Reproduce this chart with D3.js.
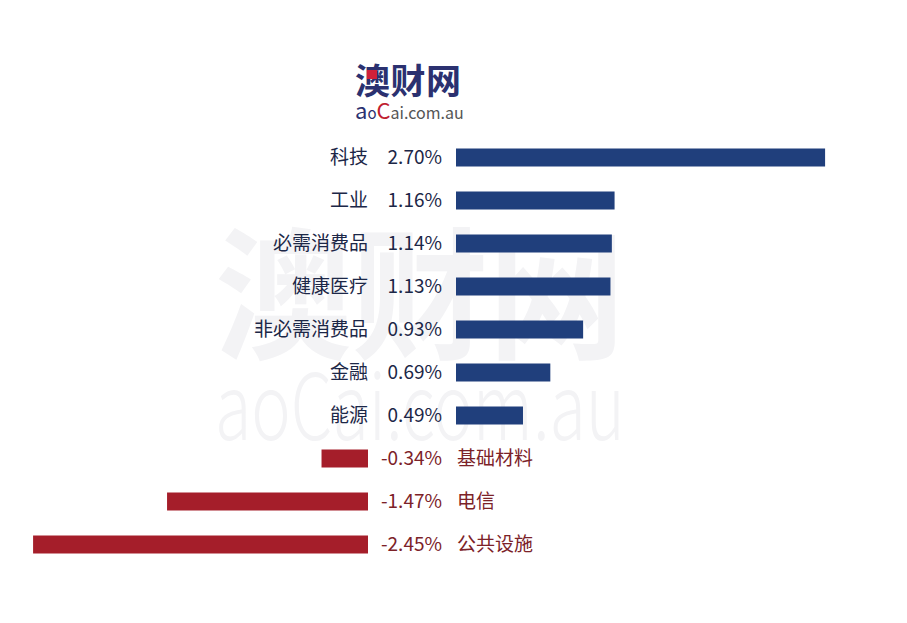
<!DOCTYPE html>
<html><head><meta charset="utf-8">
<script src="https://cdn.jsdelivr.net/npm/d3@7/dist/d3.min.js"></script>
<style>
html,body{margin:0;padding:0;background:#fff;}
svg{display:block;}
text{font-family:"Noto Sans CJK SC","Noto Sans",sans-serif;}
</style></head>
<body>
<svg id="c" width="907" height="623"></svg>
<script>
const categories = ["科技","工业","必需消费品","健康医疗","非必需消费品","金融","能源","基础材料","电信","公共设施"];
const values = [2.70, 1.16, 1.14, 1.13, 0.93, 0.69, 0.49, -0.34, -1.47, -2.45];
const valueLabels = ["2.70%","1.16%","1.14%","1.13%","0.93%","0.69%","0.49%","-0.34%","-1.47%","-2.45%"];

const svg = d3.select("#c");
const W = 907, H = 623;
svg.append("rect").attr("width",W).attr("height",H).attr("fill","#fff");

// watermark
const wm = svg.append("g");
wm.append("text").attr("x",420).attr("y",348).attr("text-anchor","middle")
  .attr("font-size",142).attr("font-weight",700).attr("fill","#f3f3f5")
  .attr("textLength",410).attr("lengthAdjust","spacingAndGlyphs")
  .text("澳财网");
wm.append("text").attr("x",420).attr("y",440).attr("text-anchor","middle")
  .attr("font-size",92).attr("font-weight",300).attr("fill","#f3f3f5")
  .attr("textLength",410).attr("lengthAdjust","spacingAndGlyphs")
  .text("aoCai.com.au");

// logo
const logo = svg.append("g");
logo.append("text").attr("x",355).attr("y",94).attr("font-size",35).attr("font-weight",700)
  .attr("fill","#2b3170").attr("textLength",106).text("澳财网");
logo.append("rect").attr("x",367).attr("y",70).attr("width",10).attr("height",9).attr("fill","#d0213a");
const lt = logo.append("text").attr("x",355).attr("y",119).attr("font-size",17);
lt.append("tspan").attr("fill","#2b3170").attr("font-size",22).text("a");
lt.append("tspan").attr("fill","#2b3170").attr("font-size",15).text("o");
lt.append("tspan").attr("fill","#c0202f").attr("font-size",22).text("C");
lt.append("tspan").attr("fill","#555").attr("font-size",16).text("ai.com.au");

// scales
const slope = 136.7;
const xPos = d3.scaleLinear().domain([0, 2.70]).range([456, 456 + 2.70*slope]);
const xNeg = d3.scaleLinear().domain([-2.45, 0]).range([368 - 2.45*slope, 368]);
const y = d3.scalePoint().domain(categories).range([157.5, 544.5]);
const barH = 18;

const data = categories.map((c,i)=>({c, v: values[i], l: valueLabels[i]}));
const navy = "#203f7c", red = "#a51e2a";

const g = svg.append("g");
g.selectAll("rect.bar").data(data).join("rect").attr("class","bar")
  .attr("x", d => d.v >= 0 ? xPos(0) : xNeg(d.v))
  .attr("width", d => d.v >= 0 ? xPos(d.v) - xPos(0) : xNeg(0) - xNeg(d.v))
  .attr("y", d => y(d.c) - barH/2)
  .attr("height", barH)
  .attr("fill", d => d.v >= 0 ? navy : red);

// value labels (right aligned at 442)
g.selectAll("text.val").data(data).join("text").attr("class","val")
  .attr("x", 442).attr("y", d => y(d.c)).attr("dy","0.36em")
  .attr("text-anchor","end").attr("font-size",19)
  .attr("fill", d => d.v >= 0 ? "#1c2747" : "#7c2228")
  .text(d => d.l);

// category labels
g.selectAll("text.cat").data(data).join("text").attr("class","cat")
  .attr("x", d => d.v >= 0 ? 368 : 457).attr("y", d => y(d.c)).attr("dy","0.36em")
  .attr("text-anchor", d => d.v >= 0 ? "end" : "start").attr("font-size",19)
  .attr("fill", d => d.v >= 0 ? "#1c2747" : "#7c2228")
  .text(d => d.c);
</script>
</body></html>
